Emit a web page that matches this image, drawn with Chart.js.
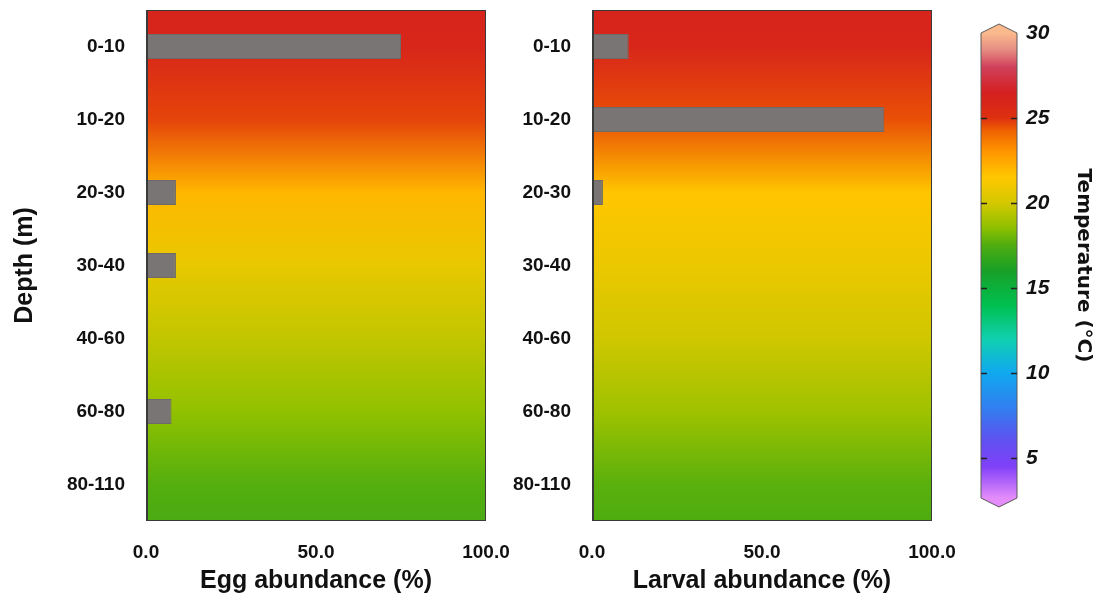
<!DOCTYPE html>
<html lang="en">
<head>
<meta charset="UTF-8">
<title>Egg and larval abundance by depth</title>
<script src="https://cdn.jsdelivr.net/npm/chart.js"></script>
<style>
    body { margin: 0; background: #fff; width: 1107px; height: 603px; overflow: hidden; }
    .box { position: absolute; top: 0; height: 603px; }
    #eggBox { left: 0; width: 520px; }
    #larvaBox { left: 500px; width: 470px; }
    #barBox { left: 950px; width: 157px; }
</style>
</head>
<body>
<div class="box" id="eggBox"><canvas id="eggChart"></canvas></div>
<div class="box" id="larvaBox"><canvas id="larvaChart"></canvas></div>
<div class="box" id="barBox"><canvas id="scaleChart"></canvas></div>

<script>
// depth layers (m)
const depths = ['0-10', '10-20', '20-30', '30-40', '40-60', '60-80', '80-110'];
// abundance (%) per layer
const eggValues = [75, 0, 8.8, 8.8, 0, 7.5, 0];
const larvalValues = [10.8, 86, 3.2, 0, 0, 0, 0];
// water temperature (°C) at each layer
const eggTemps = [25.9, 24.7, 22.0, 20.7, 19.6, 18.6, 17.6];
const larvalTemps = [25.9, 24.5, 21.6, 20.8, 19.9, 18.9, 17.7];
// colour bar ticks
const tempTicks = [5, 10, 15, 20, 25, 30];
const tempMin = 2.65, tempMax = 30;

// colour map stops: [temperature, r, g, b]
const cmap = [
    [2.65, 228, 140, 250], [4.5, 128, 64, 248], [6, 96, 80, 240], [8, 48, 128, 240],
    [10, 16, 168, 240], [12, 16, 208, 176], [14, 0, 192, 80], [16, 24, 160, 40],
    [17.5, 78, 172, 16], [18.5, 140, 192, 0], [20, 212, 200, 0], [21.5, 255, 200, 0],
    [23, 255, 150, 0], [24.2, 240, 100, 0], [25, 222, 48, 16], [26.5, 212, 32, 32],
    [28, 208, 64, 90], [29, 230, 140, 130], [30, 250, 185, 140]
];

function tempColor(t) {
    if (t <= cmap[0][0]) return `rgb(${cmap[0][1]},${cmap[0][2]},${cmap[0][3]})`;
    for (let i = 1; i < cmap.length; i++) {
        if (t <= cmap[i][0]) {
            const a = cmap[i - 1], b = cmap[i];
            const f = (t - a[0]) / (b[0] - a[0]);
            const c = [1, 2, 3].map(k => Math.round(a[k] + (b[k] - a[k]) * f));
            return `rgb(${c[0]},${c[1]},${c[2]})`;
        }
    }
    const l = cmap[cmap.length - 1];
    return `rgb(${l[1]},${l[2]},${l[3]})`;
}

const boldFont = '"Liberation Sans", Arial, sans-serif';

// no extra room for overflowing tick labels, chart areas are fixed
function noPad(s) {
    s.paddingLeft = 0; s.paddingRight = 0; s.paddingTop = 0; s.paddingBottom = 0;
}

// temperature background behind the bars
const tempBackground = {
    id: 'tempBackground',
    beforeDatasetsDraw(chart, args, opts) {
        const { ctx, chartArea: a, scales: { y } } = chart;
        const temps = opts.temps;
        const g = ctx.createLinearGradient(0, a.top, 0, a.bottom);
        g.addColorStop(0, tempColor(temps[0] + 0.2));
        temps.forEach((t, i) => {
            const p = (y.getPixelForValue(i) - a.top) / (a.bottom - a.top);
            g.addColorStop(Math.min(Math.max(p, 0), 1), tempColor(t));
        });
        g.addColorStop(1, tempColor(temps[temps.length - 1] - 0.2));
        ctx.save();
        ctx.fillStyle = g;
        ctx.fillRect(a.left, a.top, a.right - a.left, a.bottom - a.top);
        ctx.restore();
    },
    afterDraw(chart) {
        const { ctx, chartArea: a } = chart;
        ctx.save();
        ctx.strokeStyle = '#3a3a3a';
        ctx.lineWidth = 1;
        ctx.strokeRect(a.left + 0.5, a.top + 0.5, a.right - a.left - 1, a.bottom - a.top - 1);
        ctx.lineWidth = 2;
        ctx.beginPath();
        ctx.moveTo(a.left + 1, a.top);
        ctx.lineTo(a.left + 1, a.bottom);
        ctx.stroke();
        ctx.restore();
    }
};

function panel(canvasId, values, temps, xTitle, yWidth, showYTitle, rightPad) {
    return new Chart(document.getElementById(canvasId), {
        type: 'bar',
        data: {
            labels: depths,
            datasets: [{
                data: values,
                backgroundColor: '#797574',
                borderColor: '#6e6a69',
                borderWidth: 1,
                borderSkipped: 'left',
                barPercentage: 0.345,
                categoryPercentage: 1
            }]
        },
        options: {
            indexAxis: 'y',
            responsive: true,
            maintainAspectRatio: false,
            animation: false,
            layout: { padding: { top: 10, right: rightPad, left: 0, bottom: 0 } },
            plugins: {
                legend: { display: false },
                tooltip: { enabled: false },
                tempBackground: { temps: temps }
            },
            scales: {
                x: {
                    min: 0, max: 100,
                    grid: { display: false, drawTicks: false },
                    border: { display: false },
                    ticks: {
                        stepSize: 50,
                        padding: 20,
                        maxRotation: 0,
                        color: '#111',
                        font: { family: boldFont, size: 19, weight: 'bold' },
                        callback: v => v.toFixed(1)
                    },
                    title: {
                        display: true,
                        text: xTitle,
                        color: '#111',
                        padding: { top: 0, bottom: 7 },
                        font: { family: boldFont, size: 25, weight: 'bold' }
                    },
                    afterFit: s => { s.height = 82; noPad(s); }
                },
                y: {
                    grid: { display: false, drawTicks: false },
                    border: { display: false },
                    ticks: {
                        padding: 21,
                        color: '#111',
                        font: { family: boldFont, size: 19, weight: 'bold' }
                    },
                    title: {
                        display: showYTitle,
                        text: 'Depth (m)',
                        color: '#111',
                        padding: { top: 10, bottom: 0 },
                        font: { family: boldFont, size: 25, weight: 'bold' }
                    },
                    afterFit: s => { s.width = yWidth; noPad(s); }
                }
            }
        },
        plugins: [tempBackground]
    });
}

panel('eggChart', eggValues, eggTemps, 'Egg abundance (%)', 146, true, 34);
panel('larvaChart', larvalValues, larvalTemps, 'Larval abundance (%)', 92, false, 38);

// colour bar with pointed ends
const colourBar = {
    id: 'colourBar',
    beforeDraw(chart) {
        const { ctx, chartArea: a, scales: { y } } = chart;
        const top = y.getPixelForValue(tempMax), bot = y.getPixelForValue(tempMin);
        const mid = (a.left + a.right) / 2, tip = 9;
        const g = ctx.createLinearGradient(0, top, 0, bot);
        cmap.forEach(s => {
            g.addColorStop((y.getPixelForValue(s[0]) - top) / (bot - top), tempColor(s[0]));
        });
        const outline = () => {
            ctx.beginPath();
            ctx.moveTo(a.left, top);
            ctx.lineTo(mid, top - tip);
            ctx.lineTo(a.right, top);
            ctx.lineTo(a.right, bot);
            ctx.lineTo(mid, bot + tip);
            ctx.lineTo(a.left, bot);
            ctx.closePath();
        };
        ctx.save();
        outline();
        ctx.fillStyle = tempColor(tempMax);
        ctx.fill();
        ctx.fillStyle = g;
        ctx.fillRect(a.left, top, a.right - a.left, bot - top);
        ctx.fillStyle = tempColor(tempMin);
        ctx.beginPath();
        ctx.moveTo(a.left, bot);
        ctx.lineTo(a.right, bot);
        ctx.lineTo(mid, bot + tip);
        ctx.closePath();
        ctx.fill();
        outline();
        ctx.strokeStyle = '#5a5a5a';
        ctx.lineWidth = 1;
        ctx.stroke();
        ctx.strokeStyle = '#222';
        ctx.lineWidth = 1.5;
        tempTicks.forEach(t => {
            if (t >= tempMax) return;
            const py = Math.round(y.getPixelForValue(t)) + 0.5;
            ctx.beginPath();
            ctx.moveTo(a.left, py); ctx.lineTo(a.left + 6, py);
            ctx.moveTo(a.right - 6, py); ctx.lineTo(a.right, py);
            ctx.stroke();
        });
        ctx.restore();
    }
};

new Chart(document.getElementById('scaleChart'), {
    type: 'bar',
    data: { labels: [''], datasets: [{ data: [] }] },
    options: {
        responsive: true,
        maintainAspectRatio: false,
        animation: false,
        layout: { padding: { top: 33, left: 31, right: 0, bottom: 105 } },
        plugins: { legend: { display: false }, tooltip: { enabled: false } },
        scales: {
            x: { display: false },
            y: {
                position: 'right',
                min: tempMin, max: tempMax,
                afterBuildTicks: s => { s.ticks = tempTicks.map(v => ({ value: v })); },
                grid: { display: false, drawTicks: false },
                border: { display: false },
                ticks: {
                    padding: 9,
                    color: '#111',
                    font: { family: boldFont, size: 21, weight: 'bold', style: 'italic' }
                },
                title: {
                    display: true,
                    text: 'Temperature (°C)',
                    color: '#111',
                    padding: { top: 12, bottom: 0 },
                    font: { family: '"DejaVu Sans", sans-serif', size: 20, weight: 'bold' }
                },
                afterFit: s => { s.width = 90; noPad(s); }
            }
        }
    },
    plugins: [colourBar]
});
</script>
</body>
</html>
